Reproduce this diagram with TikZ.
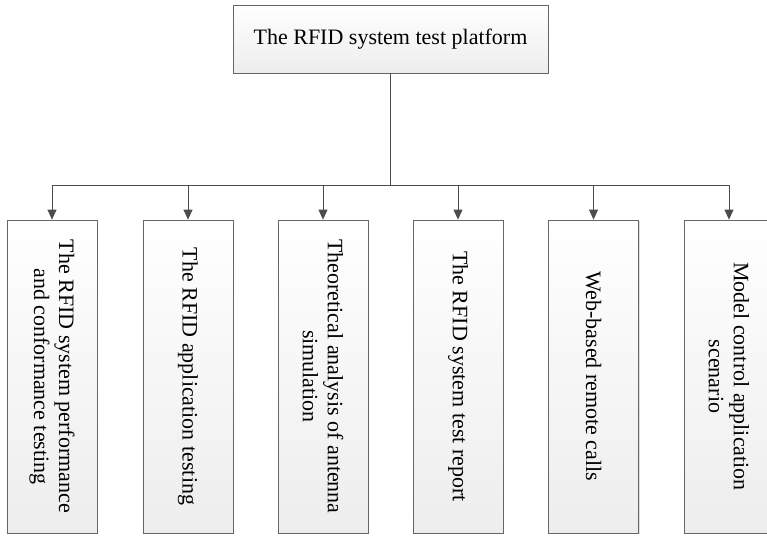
\documentclass[tikz,border=0pt]{standalone}
\usepackage{fontspec}
\setmainfont{Liberation Serif}
\usetikzlibrary{shapes, arrows.meta, shadows}

\begin{document}
\begin{tikzpicture}[x=1pt, y=-1pt,
  box/.style={draw=black!60, line width=0.8pt, top color=white, bottom color=black!7,
    drop shadow={shadow xshift=1.2pt, shadow yshift=-1.2pt, opacity=0.25}},
  leaf/.style={box, minimum width=90pt, minimum height=313pt},
  vtext/.style={rotate=-90, align=center, font=\fontsize{22}{25}\selectfont},
  link/.style={draw=black!70, line width=0.8pt},
  arr/.style={link, -{Triangle[length=10pt, width=9pt]}}]
\useasboundingbox (0,0) rectangle (767,536);

\node[box, minimum width=315pt, minimum height=68pt, font=\fontsize{22}{25}\selectfont] (top) at (390.5,39) {The RFID system test platform};
\coordinate (bus) at (390.5,185);

\node[leaf] (b1) at (52,376.5) {};
\node[leaf] (b2) at (188,376.5) {};
\node[leaf] (b3) at (323,376.5) {};
\node[leaf] (b4) at (458,376.5) {};
\node[leaf] (b5) at (593.5,376.5) {};
\node[leaf] (b6) at (729,376.5) {};

\node[vtext] (t1) at (b1) {The RFID system performance\\and conformance testing};
\node[vtext] (t2) at (b2) {The RFID application testing};
\node[vtext] (t3) at (b3) {Theoretical analysis of antenna\\simulation};
\node[vtext] (t4) at (b4) {The RFID system test report};
\node[vtext] (t5) at (b5) {Web-based remote calls};
\node[vtext] (t6) at (b6) {Model control application\\scenario};

\draw[link] (top.south) -- (bus);
\foreach \b in {b1,b2,b3,b4,b5,b6}
  \draw[arr] (bus) -| (\b.north);

\end{tikzpicture}
\end{document}
